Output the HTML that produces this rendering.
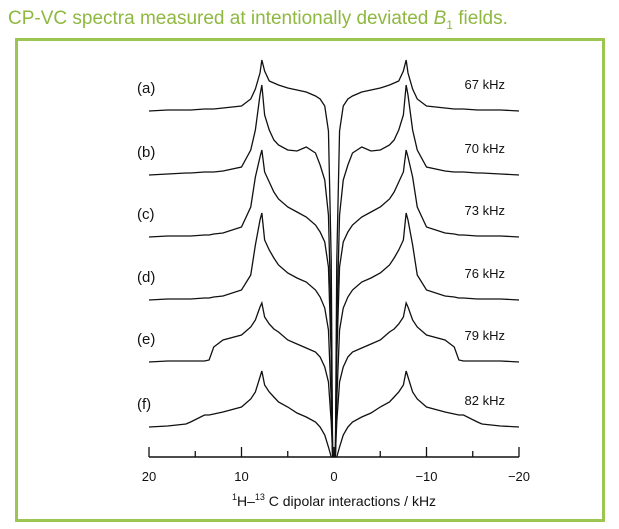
<!DOCTYPE html>
<html><head><meta charset="utf-8"><style>
body{margin:0;background:#fff;width:619px;height:529px;overflow:hidden;font-family:"Liberation Sans",sans-serif}
#title{position:absolute;left:8px;top:8px;font-size:19px;color:#8fb840;white-space:nowrap}
#frame{position:absolute;left:15px;top:38px;width:584px;height:478px;border:3px solid #9cc552}
svg{position:absolute;left:0;top:0}
</style></head><body>
<div id="title">CP-VC spectra measured at intentionally deviated <i>B</i><sub style="font-size:12px">1</sub> fields.</div>
<div id="frame"></div>
<svg id="chart" width="619" height="529"></svg>
<script>
const xs=[20,18,16,15.5,14,13.5,13,12,10,9,8.5,8,7.8,7.5,7,6.5,6,5,4,3,2,1.5,1,0.6,0.3,0.15];
const seriesA=[0,1,1,1,2,2,2,3,5,12,22,38,51,40,30,28,26,23,21,19,15,12,5,-20,-150,-345];
const seriesB=[0,1,2,2,3,3,3,4,8,25,45,80,90,60,45,35,30,25,24,28,22,10,-5,-40,-150,-280];
const seriesC=[0,1,1,1,2,2,3,4,10,30,60,80,87,65,55,45,38,30,25,20,12,5,-5,-30,-120,-218];
const seriesD=[0,1,1,1,2,2,3,4,10,25,55,80,87,60,50,42,35,27,22,18,10,3,-8,-30,-100,-155];
const seriesE=[0,1,1,1,1,2,15,22,27,35,42,55,59,45,38,33,30,22,18,14,10,5,-5,-20,-60,-93];
const seriesF=[0,1,3,5,12,12,13,15,20,28,35,50,56,42,35,30,25,20,14,10,5,0,-8,-20,-30,-30];
const letters=["(a)","(b)","(c)","(d)","(e)","(f)"];
const fields=["67 kHz","70 kHz","73 kHz","76 kHz","79 kHz","82 kHz"];
const baselines=[111,175,237,300,362,427];
const tickVals=[20,15,10,5,0,-5,-10,-15,-20];
const tickLabels=["20","10","0","\u221210","\u221220"];
const labelVals=[20,10,0,-10,-20];
const all=[seriesA,seriesB,seriesC,seriesD,seriesE,seriesF];
const svg=document.getElementById('chart');const NS='http://www.w3.org/2000/svg';
const X=v=>334-v*9.25;const axisY=457;
function mk(t,a){const e=document.createElementNS(NS,t);for(const k in a)e.setAttribute(k,a[k]);svg.appendChild(e);return e;}
all.forEach((s,i)=>{
  const b=baselines[i];const pts=[];
  for(let j=0;j<xs.length;j++)pts.push(X(xs[j])+','+(b-s[j]));
  for(let j=xs.length-1;j>=0;j--)pts.push(X(-xs[j])+','+(b-s[j]));
  const p=mk('polyline',{points:pts.join(' '),fill:'none',stroke:'#111','stroke-width':1.3});
  
  
  const t=mk('text',{x:137,y:b-18,'font-size':15,fill:'#111'});t.textContent=letters[i];
  
  
  const f=mk('text',{x:505,y:b-22,'font-size':13,fill:'#111','text-anchor':'end'});f.textContent=fields[i];
  
  
});
const ax=mk('line',{x1:X(20),x2:X(-20),y1:axisY,y2:axisY,stroke:'#111','stroke-width':1.5});


tickVals.forEach(v=>{const l=mk('line',{x1:X(v),x2:X(v),y1:axisY,y2:axisY-(v%10===0?10:6),stroke:'#111','stroke-width':1.3});
  
  });
labelVals.forEach((v,i)=>{const t=mk('text',{x:X(v),y:481,'font-size':13,fill:'#111','text-anchor':'middle'});t.textContent=tickLabels[i];
  
  });
const xt=mk('text',{x:334,y:506,'font-size':14,fill:'#111','text-anchor':'middle'});
xt.innerHTML='<tspan font-size="9" dy="-6">1</tspan><tspan dy="6">H\u2013</tspan><tspan font-size="9" dy="-6">13</tspan><tspan dy="6"> C dipolar interactions / kHz</tspan>';


</script>
</body></html>
